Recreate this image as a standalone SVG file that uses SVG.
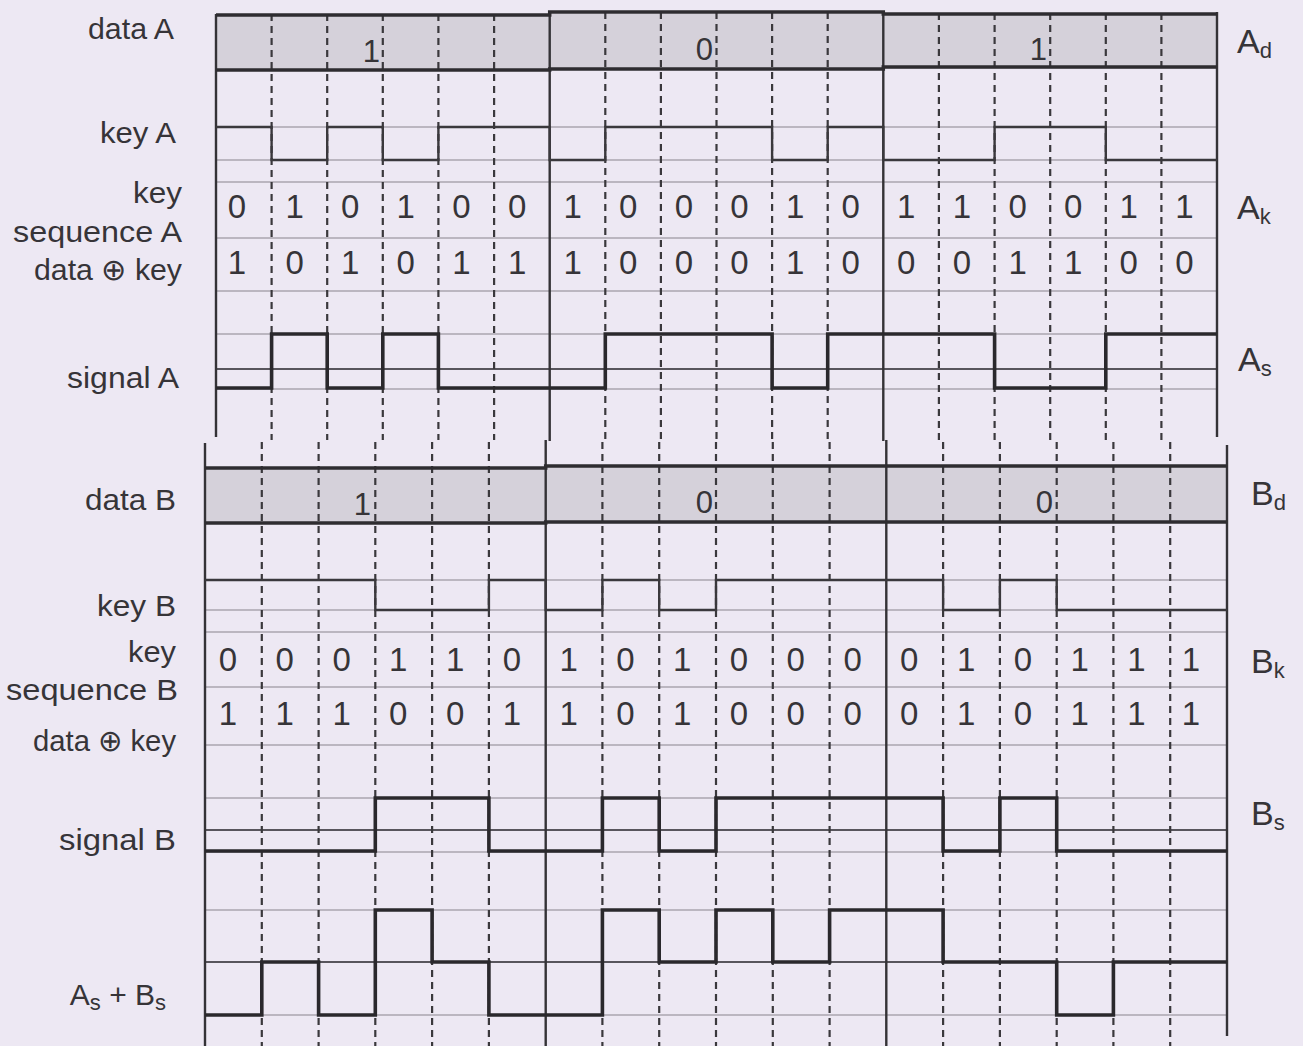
<svg xmlns="http://www.w3.org/2000/svg" width="1303" height="1046" viewBox="0 0 1303 1046">
<style>
text{font-family:"Liberation Sans",Arial,Helvetica,sans-serif;fill:#363438}
.lbl{font-size:30px;text-anchor:end}
.dig{font-size:33px;text-anchor:middle}
.bit{font-size:31px;text-anchor:end}
.rl{font-size:34px}
.sub{font-size:22px}
.guide{stroke:#aaa5b0;stroke-width:1.3;fill:none}
.axis{stroke:#58555c;stroke-width:2;fill:none}
.dash{stroke:#3a383c;stroke-width:2.2;stroke-dasharray:7 5;fill:none}
.solid{stroke:#343236;stroke-width:2.4;fill:none}
.box{fill:#d5d1da;stroke:none}
.thick{stroke:#2e2c30;stroke-width:3.5;fill:none}
.key{stroke:#3a383c;stroke-width:2.4;fill:none}
.sig{stroke:#2a282c;stroke-width:3.6;fill:none;stroke-linejoin:miter}
</style>
<rect width="1303" height="1046" fill="#ede8f3"/>

<g id="sectionA-grid">
  <rect class="box" x="216" y="14" width="1001" height="55"/>
  <path class="guide" d="M216,127H1217M216,160H1217M216,182H1217M216,238H1217M216,291H1217M216,334H1217M216,389H1217"/>
  <path class="axis" d="M216,369H1217"/>
  <path class="dash" d="M271.6,14V440M327.2,14V440M382.8,14V440M438.4,14V440M494.1,14V440M605.3,12V440M660.9,12V440M716.5,12V440M772.1,12V440M827.7,12V440M938.9,13V440M994.6,13V440M1050.2,13V440M1105.8,13V440M1161.4,13V440"/>
  <path class="solid" d="M216,14V437M549.7,11V441M883.3,11V441M1217,12V437"/>
  <path class="thick" d="M216,15H549.7V12H883.3V14H1217M216,70H549.7V69H883.3V67H1217"/>
</g>

<g id="dataA">
  <text class="bit" x="380" y="62">1</text>
  <text class="bit" x="713" y="60">0</text>
  <text class="bit" x="1047" y="60">1</text>
</g>
<g id="keyA">
  <path class="key" d="M216,127H271.6V160H327.2V127H382.8V160H438.4V127H549.7V160H605.3V127H772.1V160H827.7V127H883.3V160H994.6V127H1105.8V160H1217"/>
</g>
<g id="keyseqA">
  <text class="dig" y="218"><tspan x="237">0</tspan><tspan x="294.6">1</tspan><tspan x="350.2">0</tspan><tspan x="405.8">1</tspan><tspan x="461.4">0</tspan><tspan x="517.1">0</tspan><tspan x="572.7">1</tspan><tspan x="628.3">0</tspan><tspan x="683.9">0</tspan><tspan x="739.5">0</tspan><tspan x="795.1">1</tspan><tspan x="850.7">0</tspan><tspan x="906.3">1</tspan><tspan x="961.9">1</tspan><tspan x="1017.6">0</tspan><tspan x="1073.2">0</tspan><tspan x="1128.8">1</tspan><tspan x="1184.4">1</tspan></text>
</g>
<g id="xorA">
  <text class="dig" y="274"><tspan x="237">1</tspan><tspan x="294.6">0</tspan><tspan x="350.2">1</tspan><tspan x="405.8">0</tspan><tspan x="461.4">1</tspan><tspan x="517.1">1</tspan><tspan x="572.7">1</tspan><tspan x="628.3">0</tspan><tspan x="683.9">0</tspan><tspan x="739.5">0</tspan><tspan x="795.1">1</tspan><tspan x="850.7">0</tspan><tspan x="906.3">0</tspan><tspan x="961.9">0</tspan><tspan x="1017.6">1</tspan><tspan x="1073.2">1</tspan><tspan x="1128.8">0</tspan><tspan x="1184.4">0</tspan></text>
</g>
<g id="signalA">
  <path class="sig" d="M216,388H271.6V334H327.2V388H382.8V334H438.4V388H605.3V334H772.1V388H827.7V334H994.6V388H1105.8V334H1217"/>
</g>

<g id="sectionB-grid">
  <rect class="box" x="205" y="467" width="1022" height="55"/>
  <path class="guide" d="M205,580H1227M205,610H1227M205,632H1227M205,687H1227M205,745H1227M205,798H1227M205,852H1227M205,910H1227M205,1015H1227"/>
  <path class="axis" d="M205,830H1227M205,962H1227"/>
  <path class="dash" d="M261.8,442V1046M318.6,442V1046M375.3,442V1046M432.1,442V1046M488.9,442V1046M602.4,442V1046M659.2,442V1046M716,442V1046M772.8,442V1046M829.6,442V1046M943.1,442V1046M999.9,442V1046M1056.7,442V1046M1113.4,442V1046M1170.2,442V1046"/>
  <path class="solid" d="M205,443V1046M545.7,440V1046M886.3,440V1046M1227,445V1036"/>
  <path class="thick" d="M205,468H545.7V466H1227M205,523H545.7V522H1227"/>
</g>

<g id="dataB">
  <text class="bit" x="371" y="515">1</text>
  <text class="bit" x="713" y="513">0</text>
  <text class="bit" x="1053" y="513">0</text>
</g>
<g id="keyB">
  <path class="key" d="M205,580H375.3V610H488.9V580H545.7V610H602.4V580H659.2V610H716V580H943.1V610H999.9V580H1056.7V610H1227"/>
</g>
<g id="keyseqB">
  <text class="dig" y="671"><tspan x="228">0</tspan><tspan x="284.8">0</tspan><tspan x="341.6">0</tspan><tspan x="398.3">1</tspan><tspan x="455.1">1</tspan><tspan x="511.9">0</tspan><tspan x="568.7">1</tspan><tspan x="625.4">0</tspan><tspan x="682.2">1</tspan><tspan x="739">0</tspan><tspan x="795.8">0</tspan><tspan x="852.6">0</tspan><tspan x="909.3">0</tspan><tspan x="966.1">1</tspan><tspan x="1022.9">0</tspan><tspan x="1079.7">1</tspan><tspan x="1136.4">1</tspan><tspan x="1191">1</tspan></text>
</g>
<g id="xorB">
  <text class="dig" y="725"><tspan x="228">1</tspan><tspan x="284.8">1</tspan><tspan x="341.6">1</tspan><tspan x="398.3">0</tspan><tspan x="455.1">0</tspan><tspan x="511.9">1</tspan><tspan x="568.7">1</tspan><tspan x="625.4">0</tspan><tspan x="682.2">1</tspan><tspan x="739">0</tspan><tspan x="795.8">0</tspan><tspan x="852.6">0</tspan><tspan x="909.3">0</tspan><tspan x="966.1">1</tspan><tspan x="1022.9">0</tspan><tspan x="1079.7">1</tspan><tspan x="1136.4">1</tspan><tspan x="1191">1</tspan></text>
</g>
<g id="signalB">
  <path class="sig" d="M205,851H375.3V798H488.9V851H602.4V798H659.2V851H716V798H943.1V851H999.9V798H1056.7V851H1227"/>
</g>
<g id="sumAB">
  <path class="sig" d="M205,1015H261.8V962H318.6V1015H375.3V910H432.1V962H488.9V1015H602.4V910H659.2V962H716V910H772.8V962H829.6V910H943.1V962H1056.7V1015H1113.4V962H1227"/>
</g>

<g id="labels-left">
  <text class="lbl" x="174" y="39" textLength="86" lengthAdjust="spacingAndGlyphs">data A</text>
  <text class="lbl" x="176" y="143" textLength="76" lengthAdjust="spacingAndGlyphs">key A</text>
  <text class="lbl" x="182" y="203" textLength="49" lengthAdjust="spacingAndGlyphs">key</text>
  <text class="lbl" x="182" y="242" textLength="169" lengthAdjust="spacingAndGlyphs">sequence A</text>
  <text class="lbl" x="182" y="280" textLength="148" lengthAdjust="spacingAndGlyphs">data ⊕ key</text>
  <text class="lbl" x="179" y="388" textLength="112" lengthAdjust="spacingAndGlyphs">signal A</text>
  <text class="lbl" x="176" y="510" textLength="91" lengthAdjust="spacingAndGlyphs">data B</text>
  <text class="lbl" x="176" y="616" textLength="79" lengthAdjust="spacingAndGlyphs">key B</text>
  <text class="lbl" x="176" y="662" textLength="48" lengthAdjust="spacingAndGlyphs">key</text>
  <text class="lbl" x="178" y="700" textLength="172" lengthAdjust="spacingAndGlyphs">sequence B</text>
  <text class="lbl" x="176" y="751" textLength="143" lengthAdjust="spacingAndGlyphs">data ⊕ key</text>
  <text class="lbl" x="176" y="850" textLength="117" lengthAdjust="spacingAndGlyphs">signal B</text>
  <text class="lbl" x="166" y="1005">A<tspan class="sub" dy="5">s</tspan><tspan dy="-5"> + B</tspan><tspan class="sub" dy="5">s</tspan></text>
</g>
<g id="labels-right">
  <text class="rl" x="1237" y="53">A<tspan class="sub" dy="5">d</tspan></text>
  <text class="rl" x="1237" y="219">A<tspan class="sub" dy="5">k</tspan></text>
  <text class="rl" x="1238" y="371">A<tspan class="sub" dy="5">s</tspan></text>
  <text class="rl" x="1251" y="505">B<tspan class="sub" dy="5">d</tspan></text>
  <text class="rl" x="1251" y="673">B<tspan class="sub" dy="5">k</tspan></text>
  <text class="rl" x="1251" y="825">B<tspan class="sub" dy="5">s</tspan></text>
</g>
</svg>
